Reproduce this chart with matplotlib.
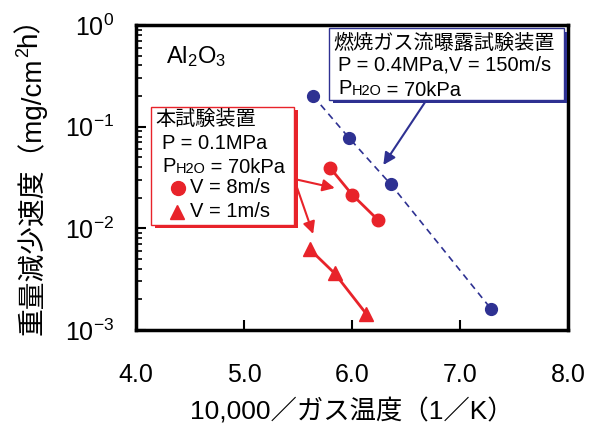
import numpy as np
import matplotlib
matplotlib.use("Agg")
from matplotlib import pyplot as plt
from matplotlib import patheffects
from matplotlib.patches import Rectangle

plt.rcParams['font.family'] = ['Liberation Sans', 'Noto Sans CJK JP', 'DejaVu Sans']
plt.rcParams['mathtext.fontset'] = 'custom'
plt.rcParams['mathtext.rm'] = 'Liberation Sans'
plt.rcParams['mathtext.it'] = 'Liberation Sans'

# data
x_burner = [5.64, 5.97, 6.36, 7.29]          # combustion gas exposure rig
y_burner = [0.20, 0.078, 0.027, 0.0016]
x_v8 = [5.80, 6.00, 6.24]                     # this rig, V = 8 m/s
y_v8 = [0.039, 0.0215, 0.0121]
x_v1 = [5.61, 5.84, 6.13]                     # this rig, V = 1 m/s
y_v1 = [0.0062, 0.0036, 0.00145]

xticks = [4.0, 5.0, 6.0, 7.0, 8.0]
xticklabels = ['4.0', '5.0', '6.0', '7.0', '8.0']

red = '#e8232a'
blue = '#2e3192'

fig = plt.figure(figsize=(6.02, 4.30), dpi=100)
ax = fig.add_axes([0.226, 0.2326, 0.7175, 0.7093])

ax.plot(x_burner, y_burner, color=blue, lw=1.2, ls=(0, (4, 3)), marker='o', ms=8.5, zorder=3)
ax.plot(x_v8, y_v8, color=red, lw=2, marker='o', ms=9, zorder=3)
ax.plot(x_v1, y_v1, color=red, lw=2, marker='^', ms=9.5, zorder=3)

ax.set_yscale('log')
ax.set_xlim(4.0, 8.0)
ax.set_ylim(1e-3, 1e0)
ax.set_xticks(xticks)
ax.set_xticklabels(xticklabels)
ax.tick_params(axis='x', direction='in', length=7, width=1.5, labelsize=18, pad=24)
ax.tick_params(axis='y', which='major', direction='in', length=7, width=1.5, labelsize=18, pad=16)
ax.tick_params(axis='y', which='minor', direction='in', length=4, width=1.2)
for s in ax.spines.values():
    s.set_linewidth(2.5)

ax.set_xlabel('10,000／ガス温度（1／K）', fontsize=19, labelpad=8)

# y label in pieces so the superscript 2 is raised
lab_fs = 20
t1 = fig.text(0.052, 0.221, '重量減少速度（mg/cm', rotation=90, fontsize=lab_fs, ha='center', va='bottom')
sup = plt.annotate('2', xy=(0, 1), xycoords=t1, xytext=(-1, 0), textcoords='offset points',
                   rotation=90, fontsize=lab_fs * 0.65, ha='left', va='bottom', annotation_clip=False)
plt.annotate('h）', xy=(0, 1), xycoords=(t1, sup), rotation=90, fontsize=lab_fs,
             ha='left', va='bottom', annotation_clip=False)

ax.text(0.069, 0.895, r'Al$_\mathregular{2}$O$_\mathregular{3}$', transform=ax.transAxes,
        fontsize=17, va='center', ha='left')

def shadow_box(x0, y0, x1, y1, color):
    r = Rectangle((x0, y0), x1 - x0, y1 - y0, transform=ax.transAxes, fc='white',
                  ec=color, lw=1, zorder=5, clip_on=False)
    r.set_path_effects([patheffects.SimplePatchShadow(offset=(2.5, -2.5), shadow_rgbFace=color, alpha=1),
                        patheffects.Normal()])
    ax.add_patch(r)

def ph2o(x, y, fs):
    t = ax.text(x, y, 'P', transform=ax.transAxes, fontsize=fs, va='bottom', ha='left', zorder=6)
    t2 = ax.annotate('H2O', xy=(1, 0), xycoords=t, fontsize=fs * 0.72, va='bottom', ha='left', zorder=6)
    ax.annotate(' = 70kPa', xy=(1, 0), xycoords=t2, xytext=(0, -1), textcoords='offset points',
                fontsize=fs, va='bottom', ha='left', zorder=6)

fs = 14.5
# blue box
shadow_box(0.447, 0.754, 0.990, 0.990, blue)
ax.text(0.456, 0.941, '燃焼ガス流曝露試験装置', transform=ax.transAxes, fontsize=fs, va='center', zorder=6)
ax.text(0.468, 0.869, 'P = 0.4MPa,V = 150m/s', transform=ax.transAxes, fontsize=fs, va='center', zorder=6)
ph2o(0.468, 0.760, fs)

# red box
shadow_box(0.035, 0.345, 0.366, 0.731, red)
ax.text(0.044, 0.689, '本試験装置', transform=ax.transAxes, fontsize=fs, va='center', zorder=6)
ax.text(0.060, 0.613, 'P = 0.1MPa', transform=ax.transAxes, fontsize=fs, va='center', zorder=6)
ph2o(0.060, 0.505, fs)
ax.plot([0.097], [0.466], transform=ax.transAxes, marker='o', ms=10, color=red, zorder=6, clip_on=False)
ax.text(0.125, 0.466, 'V = 8m/s', transform=ax.transAxes, fontsize=fs, va='center', zorder=6)
ax.plot([0.095], [0.388], transform=ax.transAxes, marker='^', ms=10, color=red, zorder=6, clip_on=False)
ax.text(0.125, 0.39, 'V = 1m/s', transform=ax.transAxes, fontsize=fs, va='center', zorder=6)

# arrows
ax.annotate('', xy=(6.29, 0.042), xytext=(6.69, 0.183),
            arrowprops=dict(arrowstyle='-|>', color=blue, lw=1.5, mutation_scale=18, shrinkA=0, shrinkB=0), zorder=4)
ax.annotate('', xy=(5.84, 0.0249), xytext=(5.463, 0.0306),
            arrowprops=dict(arrowstyle='-|>', color=red, lw=1.5, mutation_scale=18, shrinkA=0, shrinkB=0), zorder=4)
ax.annotate('', xy=(5.64, 0.0088), xytext=(5.463, 0.0306),
            arrowprops=dict(arrowstyle='-|>', color=red, lw=1.5, mutation_scale=18, shrinkA=0, shrinkB=0), zorder=4)

fig.savefig('out.png', dpi=100)
